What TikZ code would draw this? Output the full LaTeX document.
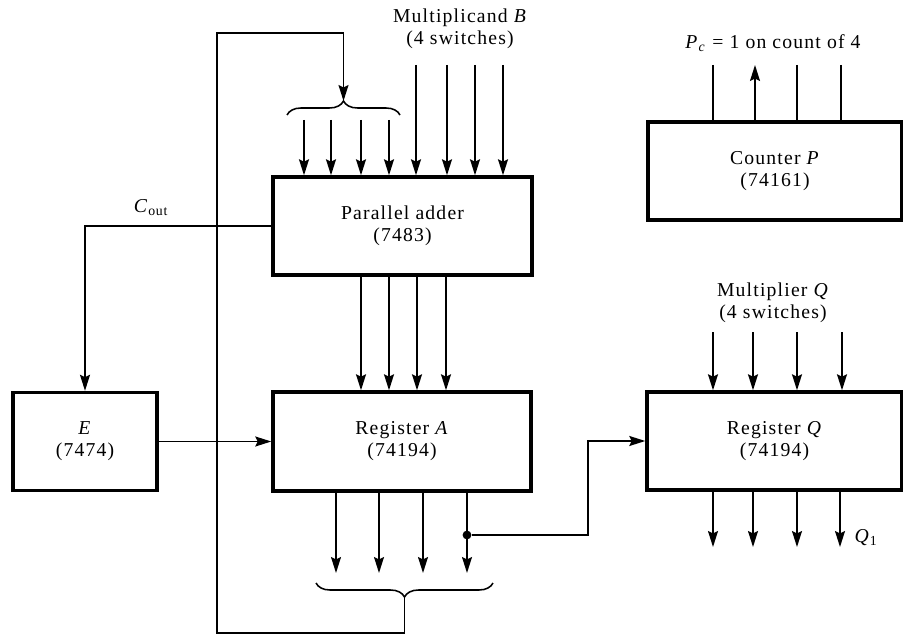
\documentclass[tikz,border=0pt]{standalone}
\usepackage{fontspec}
\setmainfont{Liberation Serif}[LetterSpace=6]
\usetikzlibrary{arrows.meta,decorations.pathreplacing}
\tikzset{
  block/.style  ={rectangle,draw,line width=2.4pt,align=center,inner sep=0pt},
  flow/.style   ={-{Stealth[length=4mm,width=2.5mm,inset=0.6mm]},line width=1.1pt},
  wire/.style   ={line width=1.1pt},
  bracket/.style={line width=1.1pt,decorate,decoration={brace,amplitude=3.5mm}},
  tap/.style    ={circle,fill,inner sep=0pt,minimum size=2.2mm},
  lbl/.style    ={align=center,inner sep=1pt},
}
\begin{document}
\begin{tikzpicture}[x=0.025cm,y=-0.025cm,font=\fontsize{14}{15.6}\selectfont]
  \useasboundingbox (0,0) rectangle (903,637);
  % blocks
  \node[block,minimum width=6.475cm,minimum height=2.45cm] (adder) at (402.5,226) {Parallel adder\\(7483)};
  \node[block,minimum width=6.45cm,minimum height=2.475cm] (regA) at (402,441.5) {Register \textit{A}\\(74194)};
  \node[block,minimum width=3.6cm,minimum height=2.45cm] (E) at (85,441.5) {\textit{E}\\(7474)};
  \node[block,minimum width=6.35cm,minimum height=2.45cm] (counter) at (775,171) {Counter \textit{P}\\(74161)};
  \node[block,minimum width=6.375cm,minimum height=2.45cm] (regQ) at (774.5,441) {Register \textit{Q}\\(74194)};
  % labels
  \node[lbl] (multB) at (460,29) {Multiplicand \textit{B}\\(4 switches)};
  \node[lbl] (multQ) at (773,303) {Multiplier \textit{Q}\\(4 switches)};
  \node[lbl] (pc) at (773,43) {\textit{P}\textsubscript{\textit{c}} = 1 on count of 4};
  \node[lbl] (cout) at (151,208) {\textit{C}\textsubscript{out}};
  \node[lbl] (q1) at (866,538) {\textit{Q}\textsubscript{1}};
  % braces
  \draw[bracket] (287,115) -- (400,115);
  \draw[bracket] (493,583) -- (316,583);
  \coordinate (ttip) at (343.5,101);
  \coordinate (btip) at (404.5,597);
  % inputs to adder
  \foreach \x in {304,331,361,389}
    \draw[flow] (\x,120) -- (\x,0 |- adder.north);
  \foreach \x in {416,447,475,503}
    \draw[flow] (\x,65) -- (\x,0 |- adder.north);
  \foreach \x in {361,389,417,446}
    \draw[flow] (\x,0 |- adder.south) -- (\x,0 |- regA.north);
  % outputs of register A
  \foreach \x in {336,379,423,467}
    \draw[flow] (\x,0 |- regA.south) -- (\x,573);
  \node[tap] (tapA) at (467,535) {};
  \draw[flow] (tapA) -| (588,0 |- regQ.west) -- (regQ.west);
  % feedback path
  \draw[flow] (btip) |- (217,633) -- (217,33) -| (ttip);
  % carry and E
  \draw[flow] (adder.west) -| (E.north);
  \draw[flow] (E.east) -- (regA.west);
  % register Q
  \foreach \x in {713,753,797,842}
    \draw[flow] (\x,332) -- (\x,0 |- regQ.north);
  \foreach \x in {713,753,797,840}
    \draw[flow] (\x,0 |- regQ.south) -- (\x,547);
  % counter P
  \foreach \x in {713,797,841}
    \draw[wire] (\x,65) -- (\x,0 |- counter.north);
  \draw[flow] (755,0 |- counter.north) -- (755,65);
\end{tikzpicture}
\end{document}
